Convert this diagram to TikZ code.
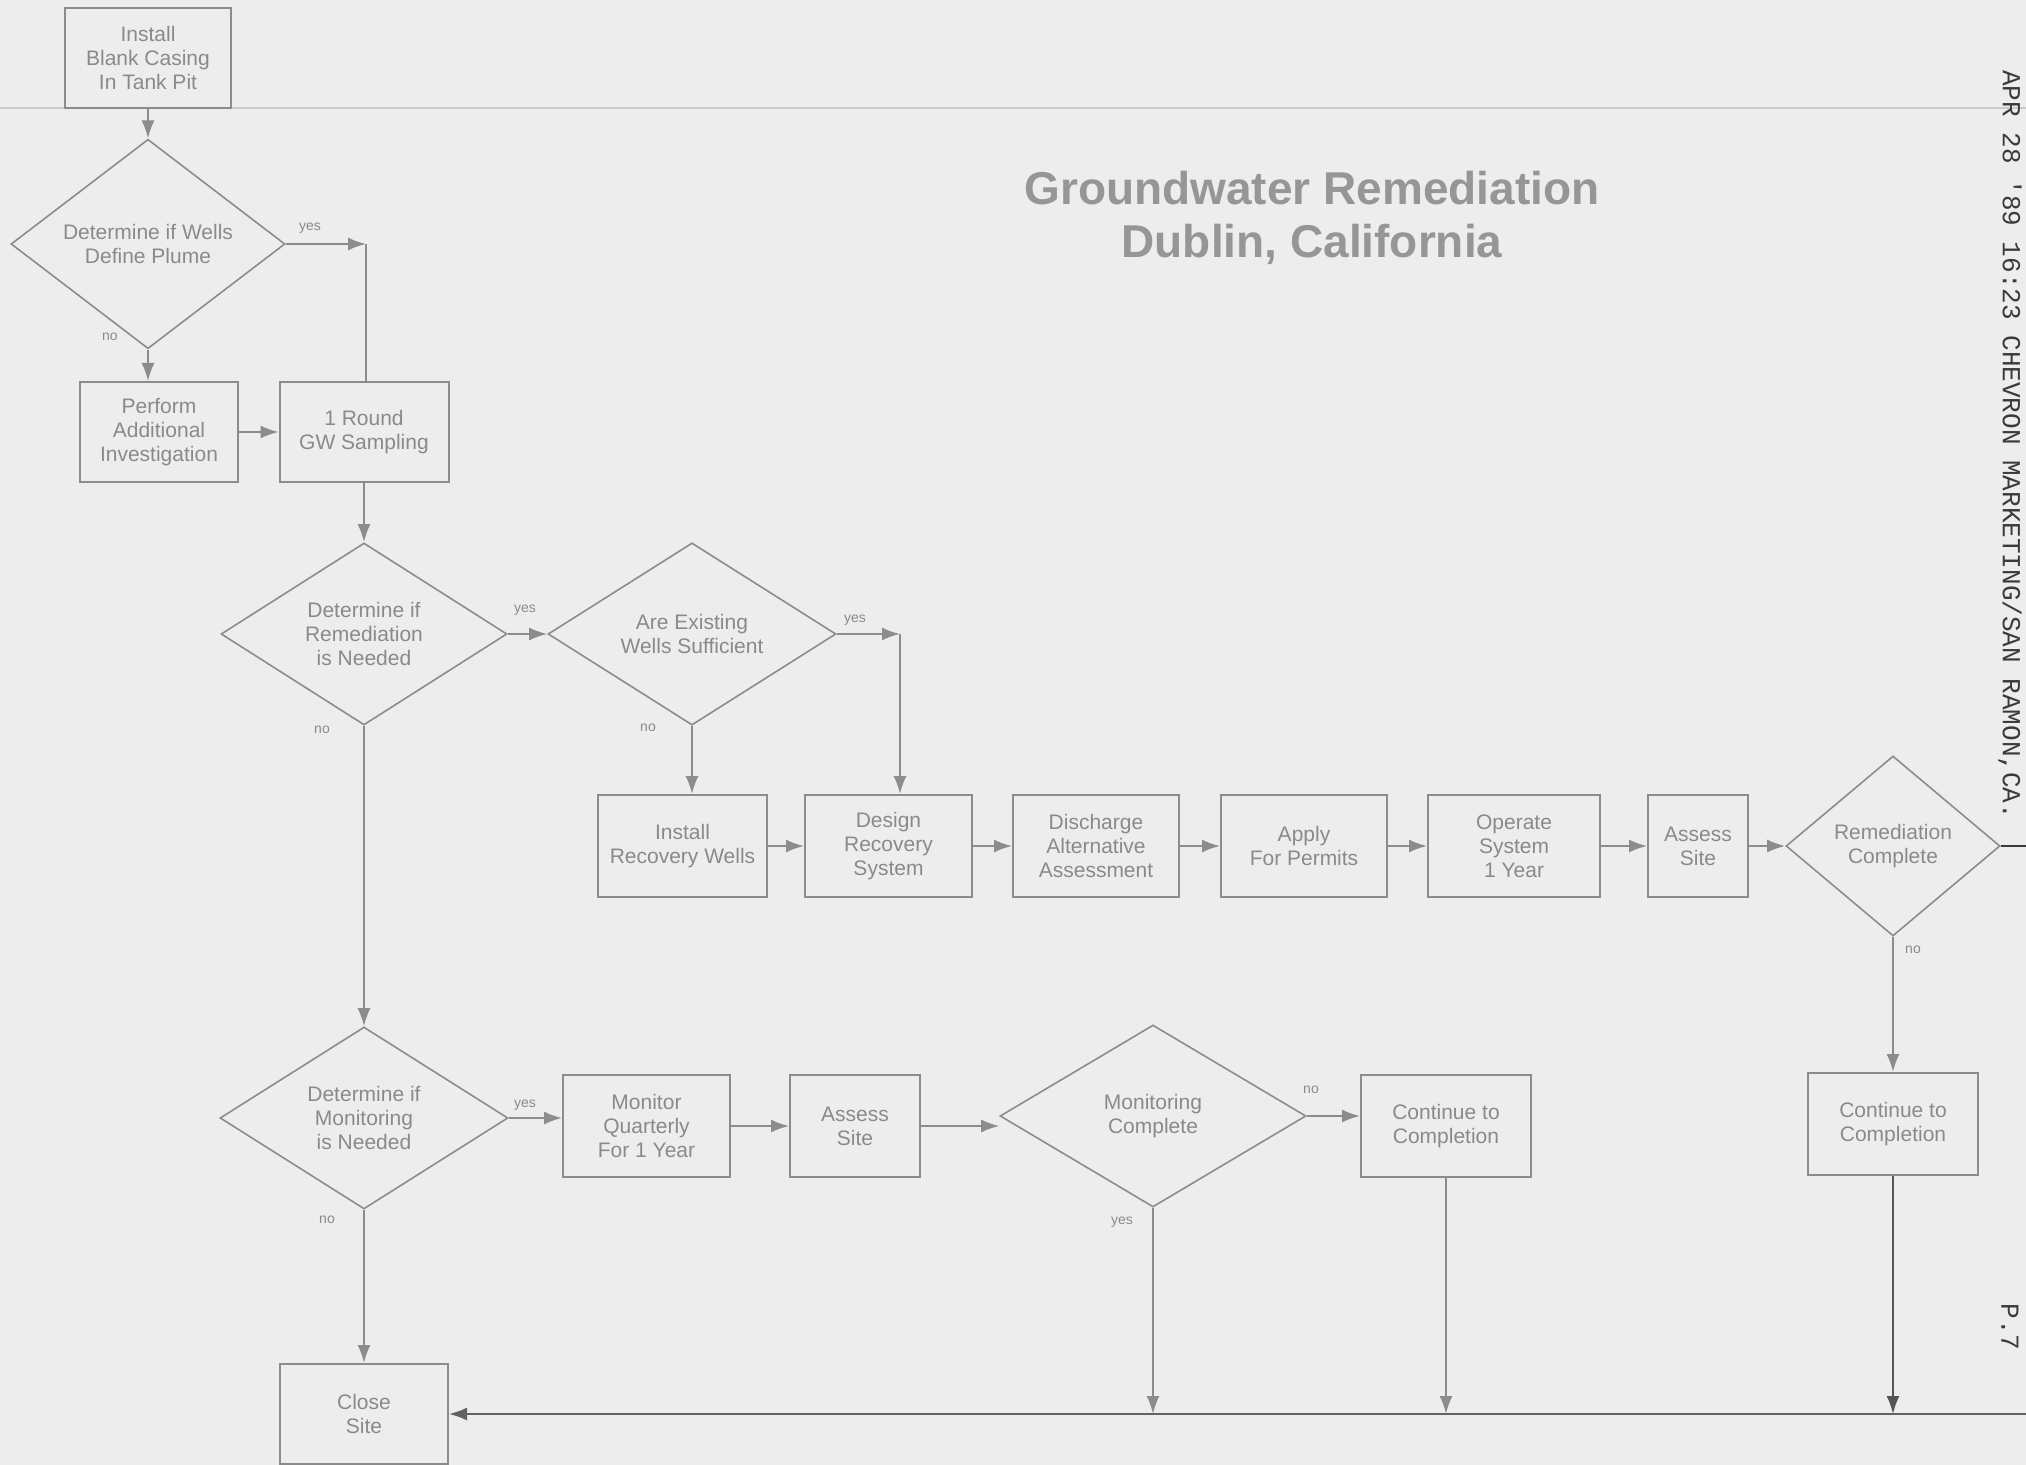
\documentclass[tikz,border=0pt]{standalone}
\usepackage{fontspec}
\newfontfamily\lsans{Liberation Sans}
\newfontfamily\lmono{Liberation Mono}
\usetikzlibrary{shapes.geometric,arrows.meta}
\definecolor{ink}{HTML}{8C8C8C}
\definecolor{txt}{HTML}{8A8A8A}
\definecolor{bgc}{HTML}{EDEDED}
\definecolor{dark}{HTML}{3A3A3A}
\begin{document}
\begin{tikzpicture}[x=0.5pt,y=-0.5pt,
  box/.style={draw=ink, line width=1pt, text=txt, align=center, inner sep=2pt,
    font=\lsans\fontsize{10.5}{12}\selectfont},
  dia/.style={diamond, draw=ink, line width=0.8pt, text=txt, align=center, inner sep=0pt,
    font=\lsans\fontsize{10.5}{12}\selectfont},
  arr/.style={draw=ink, line width=1pt, -{Latex[length=9pt,width=6.5pt]}},
  ln/.style={draw=ink, line width=1pt},
  lab/.style={text=txt, font=\lsans\fontsize{7}{8}\selectfont},
  ttl/.style={text=txt!90, align=center, font=\lsans\bfseries\fontsize{23}{26.5}\selectfont},
  fax/.style={text=dark, font=\lmono\fontsize{13}{14}\selectfont, inner sep=0pt}
]
\useasboundingbox (0,0) rectangle (2026,1465);
\fill[bgc] (0,0) rectangle (2026,1465);
\draw[ink!45, line width=0.6pt] (0,108) -- (2026,108);

% title
\node[ttl] (title) at (1312,218) {Groundwater Remediation\\Dublin, California};

% fax header
\node[fax, rotate=-90, anchor=west] (hdr) at (2010,70) {APR 28 '89 16:23 CHEVRON MARKETING/SAN RAMON,CA.};
\node[fax, rotate=-90, anchor=west] (pg) at (2010,1303) {P.7};

% top part
\node[box, minimum width=83pt, minimum height=50pt] (top) at (148,58) {Install\\Blank Casing\\In Tank Pit};
\node[dia, minimum width=137pt, minimum height=89pt] (d1) at (148,244) {Determine if Wells\\Define Plume};
\node[box, minimum width=79pt, minimum height=50pt] (perf) at (159,432) {Perform\\Additional\\Investigation};
\node[box, minimum width=84.5pt, minimum height=50pt] (round) at (364,432) {1 Round\\GW Sampling};
\coordinate (c1) at (366,244);

\draw[arr] (top.south) -- (d1.north);
\draw[arr] (d1.east) -- (c1);
\draw[ln] (c1) -- (c1 |- round.north);
\draw[arr] (d1.south) -- (d1.south |- perf.north);
\draw[arr] (perf.east) -- (round.west);
\node[lab] (y1) at (310,228) {yes};
\node[lab] (n1) at (110,337) {no};

% remediation row
\node[dia, minimum width=143pt, minimum height=91pt] (d2) at (364,634) {Determine if\\Remediation\\is Needed};
\node[dia, minimum width=144pt, minimum height=89pt] (d3) at (692,634) {Are Existing\\Wells Sufficient};
\draw[arr] (round.south) -- (d2.north);
\draw[arr] (d2.east) -- (d3.west);
\node[lab] (y2) at (525,610) {yes};
\node[lab] (n2) at (322,730) {no};
\node[lab] (y3) at (855,620) {yes};
\node[lab] (n3) at (648,728) {no};

\node[box, minimum width=84.5pt, minimum height=51pt] (inst) at (682.5,846) {Install\\Recovery Wells};
\node[box, minimum width=83.5pt, minimum height=51pt] (design) at (888.5,846) {Design\\Recovery\\System};
\node[box, minimum width=83pt, minimum height=51pt] (disch) at (1096,846) {Discharge\\Alternative\\Assessment};
\node[box, minimum width=83pt, minimum height=51pt] (apply) at (1304,846) {Apply\\For Permits};
\node[box, minimum width=86pt, minimum height=51pt] (oper) at (1514,846) {Operate\\System\\1 Year};
\node[box, minimum width=50pt, minimum height=51pt] (ass1) at (1698,846) {Assess\\Site};
\node[dia, minimum width=107pt, minimum height=90pt] (d5) at (1893,846) {Remediation\\Complete};
\node[box, minimum width=85pt, minimum height=51pt] (cont2) at (1893,1124) {Continue to\\Completion};
\coordinate (c2) at (900,634);
\coordinate (offR) at (2026,846);

\draw[arr] (d3.east) -- (c2);
\draw[arr] (c2) -- (c2 |- design.north);
\draw[arr] (d3.south) -- (d3.south |- inst.north);
\draw[arr] (inst.east) -- (design.west);
\draw[arr] (design.east) -- (disch.west);
\draw[arr] (disch.east) -- (apply.west);
\draw[arr] (apply.east) -- (oper.west);
\draw[arr] (oper.east) -- (ass1.west);
\draw[arr] (ass1.east) -- (d5.west);
\draw[dark, line width=1.2pt] (d5.east) -- (offR);
\draw[arr] (d5.south) -- (cont2.north);
\node[lab] (n5) at (1913,950) {no};

% monitoring row
\node[dia, minimum width=144pt, minimum height=91pt] (d4) at (364,1118) {Determine if\\Monitoring\\is Needed};
\node[box, minimum width=83.5pt, minimum height=51pt] (mon) at (646.5,1126) {Monitor\\Quarterly\\For 1 Year};
\node[box, minimum width=65pt, minimum height=51pt] (ass2) at (855,1126) {Assess\\Site};
\node[dia, minimum width=153pt, minimum height=91pt] (d6) at (1153,1116) {Monitoring\\Complete};
\node[box, minimum width=85pt, minimum height=51pt] (cont1) at (1446,1126) {Continue to\\Completion};
\node[box, minimum width=84pt, minimum height=50pt] (close) at (364,1414) {Close\\Site};

\draw[arr] (d2.south) -- (d4.north);
\draw[arr] (d4.east) -- (d4.east -| mon.west);
\draw[arr] (mon.east) -- (mon.east -| ass2.west);
\draw[arr] (ass2.east) -- (ass2.east -| d6.west);
\draw[arr] (d6.east) -- (d6.east -| cont1.west);
\draw[arr] (d4.south) -- (close.north);
\node[lab] (y4) at (525,1105) {yes};
\node[lab] (n4) at (327,1220) {no};
\node[lab] (n6) at (1311,1090) {no};
\node[lab] (y6) at (1122,1222) {yes};

% bottom return line
\coordinate (bR) at (2026,1414);
\draw[arr, draw=ink!70!black] (bR) -- (close.east);
\draw[arr] (d6.south) -- (d6.south |- bR);
\draw[arr] (cont1.south) -- (cont1.south |- bR);
\draw[arr, draw=ink!60!black] (cont2.south) -- (cont2.south |- bR);
\end{tikzpicture}
\end{document}
